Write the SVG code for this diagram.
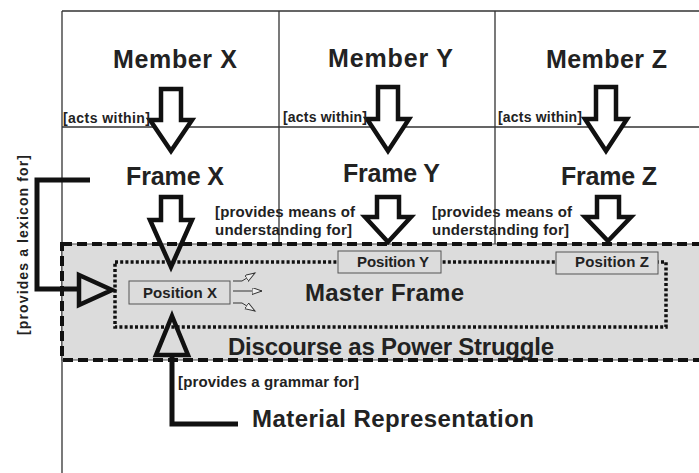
<svg xmlns="http://www.w3.org/2000/svg" width="699" height="473" viewBox="0 0 699 473">
<style>
text{font-family:"Liberation Sans",Arial,sans-serif;font-weight:bold;fill:#222}
.big{font-size:25px}
.lab{font-size:14px}
.pos{font-size:15px}
.grid{stroke:#333;stroke-width:1.3;fill:none}
.blk{stroke:#111;stroke-width:4.5;stroke-linejoin:miter;stroke-miterlimit:10}
.thin{stroke:#333;stroke-width:1;fill:none}
.pbox{fill:#dcdcdc;stroke:#555;stroke-width:1}
</style>
<defs>
<marker id="hollow" markerUnits="userSpaceOnUse" markerWidth="12" markerHeight="9" refX="10" refY="3.5" orient="auto">
<path d="M0,0 L10,3.5 L0,7 Z" fill="#eee" stroke="#333" stroke-width="1"/>
</marker>
</defs>
<rect width="699" height="473" fill="#fff"/>
<g id="grid">
<path class="grid" d="M62,11 H699 M62,11 V473 M62,127 H699 M279,11 V244 M495,11 V244"/>
</g>
<g id="discourse">
<rect x="62" y="244" width="660" height="116" fill="#dcdcdc" stroke="#444" stroke-width="1"/>
<rect x="62" y="244" width="660" height="116" fill="none" stroke="#111" stroke-width="4" stroke-dasharray="10 5"/>
<text x="228" y="355" font-size="24" textLength="326" lengthAdjust="spacing">Discourse as Power Struggle</text>
</g>
<g id="master-frame">
<rect x="115" y="262" width="551" height="65" fill="none" stroke="#111" stroke-width="3.5" stroke-dasharray="3 2.2"/>
<text x="305" y="301" font-size="24" textLength="159" lengthAdjust="spacing">Master Frame</text>
</g>
<g id="member-x"><text class="big" x="113" y="68" textLength="124" lengthAdjust="spacing">Member X</text></g>
<g id="member-y"><text class="big" x="328" y="67" textLength="125" lengthAdjust="spacing">Member Y</text></g>
<g id="member-z"><text class="big" x="546" y="68" textLength="121" lengthAdjust="spacing">Member Z</text></g>
<g id="frame-x"><text class="big" x="126" y="185" textLength="98" lengthAdjust="spacing">Frame X</text></g>
<g id="frame-y"><text class="big" x="343" y="182" textLength="97" lengthAdjust="spacing">Frame Y</text></g>
<g id="frame-z"><text class="big" x="561" y="185" textLength="96" lengthAdjust="spacing">Frame Z</text></g>
<g id="position-x">
<rect class="pbox" x="129" y="281" width="101" height="23"/>
<text class="pos" x="143" y="298" textLength="74" lengthAdjust="spacing">Position X</text>
</g>
<g id="position-y">
<rect class="pbox" x="338" y="251" width="103" height="22"/>
<text class="pos" x="357" y="267" textLength="72" lengthAdjust="spacing">Position Y</text>
</g>
<g id="position-z">
<rect class="pbox" x="556" y="252" width="102" height="22"/>
<text class="pos" x="575" y="267" textLength="74" lengthAdjust="spacing">Position Z</text>
</g>
<g id="material-representation">
<text x="252" y="427" font-size="24" textLength="282" lengthAdjust="spacing">Material Representation</text>
</g>
<g id="connectors">
<path class="blk" fill="#fff" d="M161,89 H181 V120 H192 L171,151 L150,120 H161 Z"/>
<path class="blk" fill="#fff" d="M378,87 H398 V119 H409 L388,151 L367,119 H378 Z"/>
<path class="blk" fill="#fff" d="M596,87 H616 V119 H627 L606,151 L585,119 H596 Z"/>
<text class="lab" x="63" y="123" textLength="87" lengthAdjust="spacing">[acts within]</text>
<text class="lab" x="283" y="122" textLength="84" lengthAdjust="spacing">[acts within]</text>
<text class="lab" x="498" y="122" textLength="84" lengthAdjust="spacing">[acts within]</text>
<path class="blk" fill="none" d="M161,197 H181 V220 H192 L171,267 L150,220 H161 Z"/>
<path class="blk" fill="none" d="M377,197 H399 V217 H411 L388,242 L365,217 H377 Z"/>
<path class="blk" fill="none" d="M597,197 H619 V217 H631 L608,241 L585,217 H597 Z"/>
<text class="pos" x="215" y="217" textLength="140" lengthAdjust="spacing">[provides means of</text>
<text class="pos" x="215" y="235" textLength="137" lengthAdjust="spacing">understanding for]</text>
<text class="pos" x="432" y="217" textLength="140" lengthAdjust="spacing">[provides means of</text>
<text class="pos" x="432" y="235" textLength="137" lengthAdjust="spacing">understanding for]</text>
<path fill="none" stroke="#111" stroke-width="5" d="M90,180 H37 V289 H79"/>
<path class="blk" fill="none" d="M79,275 L112,290 L79,305 Z"/>
<text class="lab" transform="translate(28,335) rotate(-90)" x="0" y="0" textLength="180" lengthAdjust="spacing">[provides a lexicon for]</text>
<path fill="none" stroke="#111" stroke-width="5" d="M172,355 V424 H238"/>
<path class="blk" fill="none" d="M172,316 L188,355 L156,355 Z"/>
<text x="178" y="387" font-size="15" textLength="181" lengthAdjust="spacing">[provides a grammar for]</text>
<polyline class="thin" points="233,281 242,281 255,273" marker-end="url(#hollow)"/>
<line class="thin" x1="233" y1="291" x2="262" y2="291" marker-end="url(#hollow)"/>
<polyline class="thin" points="233,303 242,303 255,311" marker-end="url(#hollow)"/>
</g>
</svg>
